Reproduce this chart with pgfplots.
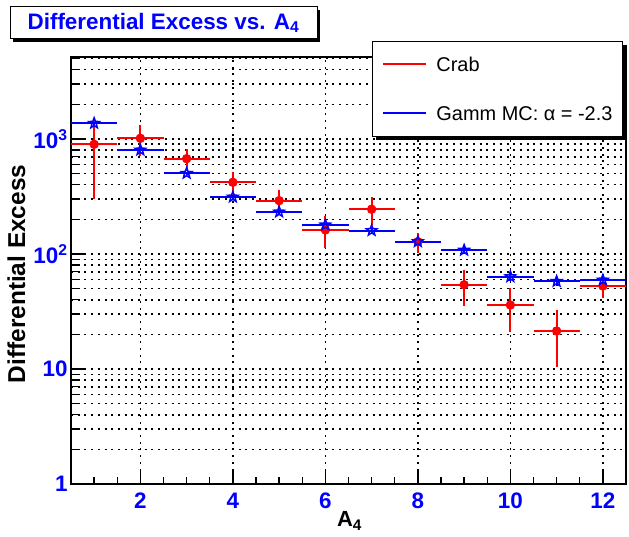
\documentclass[border=0pt]{standalone}
\usepackage{fontspec}
\setmainfont{Liberation Sans}
\usepackage{pgfplots}
\pgfplotsset{compat=1.18}
\usetikzlibrary{plotmarks}

\pgfdeclareplotmark{ostar}{%
  \pgfpathmoveto{\pgfpointpolar{90}{\pgfplotmarksize}}%
  \pgfpathlineto{\pgfpointpolar{126}{0.42\pgfplotmarksize}}%
  \pgfpathlineto{\pgfpointpolar{162}{\pgfplotmarksize}}%
  \pgfpathlineto{\pgfpointpolar{198}{0.42\pgfplotmarksize}}%
  \pgfpathlineto{\pgfpointpolar{234}{\pgfplotmarksize}}%
  \pgfpathlineto{\pgfpointpolar{270}{0.42\pgfplotmarksize}}%
  \pgfpathlineto{\pgfpointpolar{306}{\pgfplotmarksize}}%
  \pgfpathlineto{\pgfpointpolar{342}{0.42\pgfplotmarksize}}%
  \pgfpathlineto{\pgfpointpolar{18}{\pgfplotmarksize}}%
  \pgfpathlineto{\pgfpointpolar{54}{0.42\pgfplotmarksize}}%
  \pgfpathclose
  \pgfusepathqstroke
}

\pgfplotstableread{
x y ex ey
1 899 0.5 600
2 1014 0.5 300
3 674 0.5 150
4 420 0.5 95
5 291 0.5 68
6 162 0.5 50
7 245 0.5 66
8 128 0.5 25
9 54 0.5 19
10 36 0.5 15
11 21.4 0.5 11
12 52.7 0.5 11
}\crab

\pgfplotstableread{
x y ex ey
1 1370 0.5 40
2 802 0.5 25
3 503 0.5 15
4 313 0.5 10
5 232 0.5 8
6 179 0.5 7
7 160 0.5 7
8 128 0.5 7
9 108 0.5 9
10 63.5 0.5 5
11 57.8 0.5 5
12 59.4 0.5 5
}\gammamc

\begin{document}
\begin{tikzpicture}
\useasboundingbox (0,0) rectangle (629bp,537bp);
\begin{axis}[
  at={(71bp,53bp)}, anchor=south west,
  scale only axis, width=555bp, height=427bp,
  clip=false,
  xmin=0.5, xmax=12.5,
  ymode=log, ymin=1, ymax=5164,
  xtick={2,4,6,8,10,12},
  xticklabels={2,4,6,8,10,12},
  minor xtick={1,1.5,...,12},
  ytick={1,10,100,1000},
  yticklabels={1,10,10\textsuperscript{2},10\textsuperscript{3}},
  minor ytick={2,3,...,9,20,30,...,90,200,300,...,900,2000,3000,4000,5000},
  tick pos=left,
  tick align=inside,
  major tick length=13bp,
  minor tick length=7bp,
  tick style={black, line width=1.3bp},
  axis line style={line width=1.6bp},
  tick label style={font=\fontsize{22.5}{27}\selectfont\bfseries, text=blue},
  xticklabel style={anchor=base, yshift=-24bp},
  xmajorgrids, ymajorgrids, yminorgrids,
  major grid style={black, line width=1.5bp, dash pattern=on 2bp off 4.7bp},
  minor grid style={black, line width=1.5bp, dash pattern=on 2bp off 4.7bp},
  xlabel={A\textsubscript{4}},
  ylabel={Differential Excess},
  xlabel style={font=\fontsize{22}{26}\selectfont\bfseries, at={(axis description cs:0.5018,-0.1007)}, anchor=base},
  ylabel style={font=\fontsize{24.5}{29}\selectfont\bfseries, at={(axis description cs:-0.0982,0.4918)}, anchor=center},
  legend image code/.code={\draw[#1] (0bp,0bp) -- (43bp,0bp);},
  legend cell align=left,
  legend style={at={(axis description cs:0.5423,1.0375)}, anchor=north west,
    draw=black, line width=1bp, fill=white,
    font=\fontsize{20}{24}\selectfont,
    inner xsep=10bp, inner ysep=16bp, row sep=35bp, column sep=9bp,
    nodes={inner sep=0pt, text height=14bp, text depth=0bp},
    column 2/.style={nodes={text width=178bp, align=left}}},
]
\addplot[red, only marks, mark=*, mark size=4.2bp, mark options={fill=red, draw=red, line width=1bp}, forget plot,
  error bars/.cd, x dir=both, x explicit, y dir=both, y explicit, error mark=none,
  error bar style={line width=2bp, red}]
  table[x=x, y=y, x error=ex, y error=ey] {\crab};
\addplot[blue, only marks, mark=ostar, mark size=5.5bp, mark options={draw=blue, line width=1.5bp}, forget plot,
  error bars/.cd, x dir=both, x explicit, y dir=both, y explicit, error mark=none,
  error bar style={line width=2bp, blue}]
  table[x=x, y=y, x error=ex, y error=ey] {\gammamc};
\fill[black] ([xshift=4bp,yshift=-4bp]axis description cs:0.5423,0.815) rectangle ([xshift=4bp,yshift=-4bp]axis description cs:0.9946,1.0375);
\addlegendimage{draw=red, line width=2bp}
\addlegendentry{Crab}
\addlegendimage{draw=blue, line width=2bp}
\addlegendentry{Gamm MC: α = -2.3}
\end{axis}
\fill[black] (13bp,495bp) rectangle (320bp,527bp);
\node[draw=black, line width=1bp, fill=white,
  minimum width=307bp, minimum height=32bp, inner sep=0pt, text=blue,
  font=\fontsize{22.5}{27}\selectfont\bfseries] at (163.5bp,514bp) {Differential Excess vs. A\textsubscript{4}};
\end{tikzpicture}
\end{document}
